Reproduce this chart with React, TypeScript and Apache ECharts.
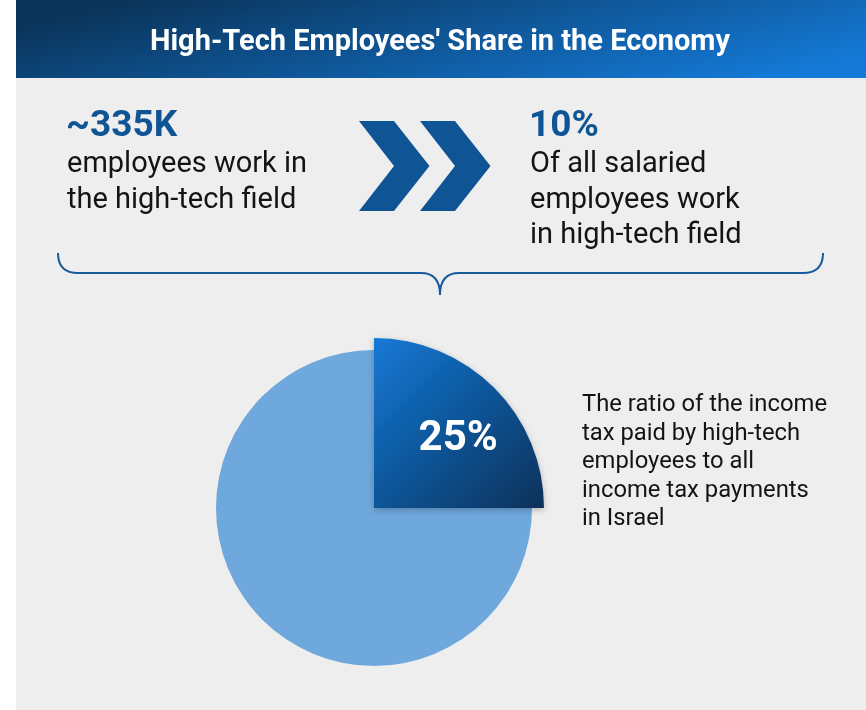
import React, { useEffect, useRef } from "react";
import * as echarts from "echarts";

const TITLE = "High-Tech Employees' Share in the Economy";
const leftStatValue = "~335K";
const leftStatLines = ["employees work in", "the high-tech field"];
const rightStatValue = "10%";
const rightStatLines = ["Of all salaried", "employees work", "in high-tech field"];
const pieNames = ["High-tech", "Other"];
const pieValues = [25, 75];
const noteLines = [
  "The ratio of the income",
  "tax paid by high-tech",
  "employees to all",
  "income tax payments",
  "in Israel",
];

const FONT = "Roboto, 'Noto Sans', sans-serif";
const BLUE = "#0f5596";
const TEXT = "#141414";

function chevron(dx: number) {
  return [
    [359 + dx, 121],
    [394 + dx, 121],
    [429.5 + dx, 166],
    [394 + dx, 211],
    [359 + dx, 211],
    [394 + dx, 166],
  ];
}

export default function App() {
  const ref = useRef<HTMLDivElement>(null);
  useEffect(() => {
    if (!ref.current) return;
    const chart = echarts.init(ref.current, null, { renderer: "svg" });
    echarts.graphic.registerShape(
      "brace",
      echarts.graphic.extendPath(
        "M58 253 Q58 273 78 273 L421 273 Q440 273 440 295 Q440 273 459 273 L803 273 Q823 273 823 253",
        {}
      )
    );
    const graphic: any[] = [
      { type: "rect", z: -10, shape: { x: 0, y: 0, width: 866, height: 710 }, style: { fill: "#ffffff" } },
      { type: "rect", z: -9, shape: { x: 16, y: 0, width: 850, height: 710 }, style: { fill: "#eeeeee" } },
      {
        type: "rect",
        z: -8,
        shape: { x: 16, y: 0, width: 850, height: 78 },
        style: {
          fill: new echarts.graphic.LinearGradient(0, 0.3, 1, 0.7, [
            { offset: 0, color: "#0a3358" },
            { offset: 1, color: "#1479d6" },
          ]),
        },
      },
      {
        type: "text",
        x: 440,
        y: 40,
        style: { text: TITLE, fill: "#ffffff", font: `bold 29px ${FONT}`, align: "center", verticalAlign: "middle" },
      },
      {
        type: "text",
        x: 66,
        y: 123,
        style: { text: leftStatValue, fill: BLUE, font: `bold 37px ${FONT}`, align: "left", verticalAlign: "middle" },
      },
      ...leftStatLines.map((t, i) => ({
        type: "text",
        x: 67,
        y: 162 + i * 35.5,
        style: { text: t, fill: TEXT, font: `29px ${FONT}`, align: "left", verticalAlign: "middle" },
      })),
      {
        type: "text",
        x: 529,
        y: 123,
        style: { text: rightStatValue, fill: BLUE, font: `bold 37px ${FONT}`, align: "left", verticalAlign: "middle" },
      },
      ...rightStatLines.map((t, i) => ({
        type: "text",
        x: 530,
        y: 162 + i * 35.5,
        style: { text: t, fill: TEXT, font: `29px ${FONT}`, align: "left", verticalAlign: "middle" },
      })),
      { type: "polygon", shape: { points: chevron(0) }, style: { fill: BLUE } },
      { type: "polygon", shape: { points: chevron(61) }, style: { fill: BLUE } },
      { type: "brace", x: 0, y: 0, style: { fill: "none", stroke: "#1a5a9a", lineWidth: 2 } },
      ...noteLines.map((t, i) => ({
        type: "text",
        x: 582,
        y: 403 + i * 28.6,
        style: { text: t, fill: TEXT, font: `23.8px ${FONT}`, align: "left", verticalAlign: "middle" },
      })),
    ];

    chart.setOption({
      animation: false,
      graphic,
      series: [
        {
          type: "pie",
          silent: true,
          center: [374, 508],
          radius: [0, 158],
          startAngle: 90,
          clockwise: true,
          label: { show: false },
          labelLine: { show: false },
          emphasis: { disabled: true },
          data: [
            { name: pieNames[0], value: pieValues[0], itemStyle: { color: "rgba(0,0,0,0)" } },
            { name: pieNames[1], value: pieValues[1], itemStyle: { color: "#6fa8dc" } },
          ],
        },
        {
          type: "pie",
          silent: true,
          center: [374, 508],
          radius: [0, 170],
          startAngle: 90,
          clockwise: true,
          labelLine: { show: false },
          emphasis: { disabled: true },
          data: [
            {
              name: pieNames[0],
              value: pieValues[0],
              itemStyle: {
                color: new echarts.graphic.LinearGradient(0, 0, 1, 1, [
                  { offset: 0, color: "#1479d6" },
                  { offset: 1, color: "#0a3159" },
                ]),
                shadowBlur: 6,
                shadowColor: "rgba(0,0,0,0.25)",
                shadowOffsetY: 2,
              },
              label: {
                show: true,
                position: "inside",
                formatter: "{c}%",
                color: "#ffffff",
                fontFamily: "Roboto",
                fontWeight: "bold",
                fontSize: 42,
                offset: [22, -10],
              },
            },
            {
              name: pieNames[1],
              value: pieValues[1],
              itemStyle: { color: "rgba(0,0,0,0)" },
              label: { show: false },
            },
          ],
        },
      ],
    });
    return () => chart.dispose();
  }, []);
  return (
    <div
      ref={ref}
      style={{ position: "fixed", left: 0, top: 0, width: 866, height: 710 }}
    />
  );
}
